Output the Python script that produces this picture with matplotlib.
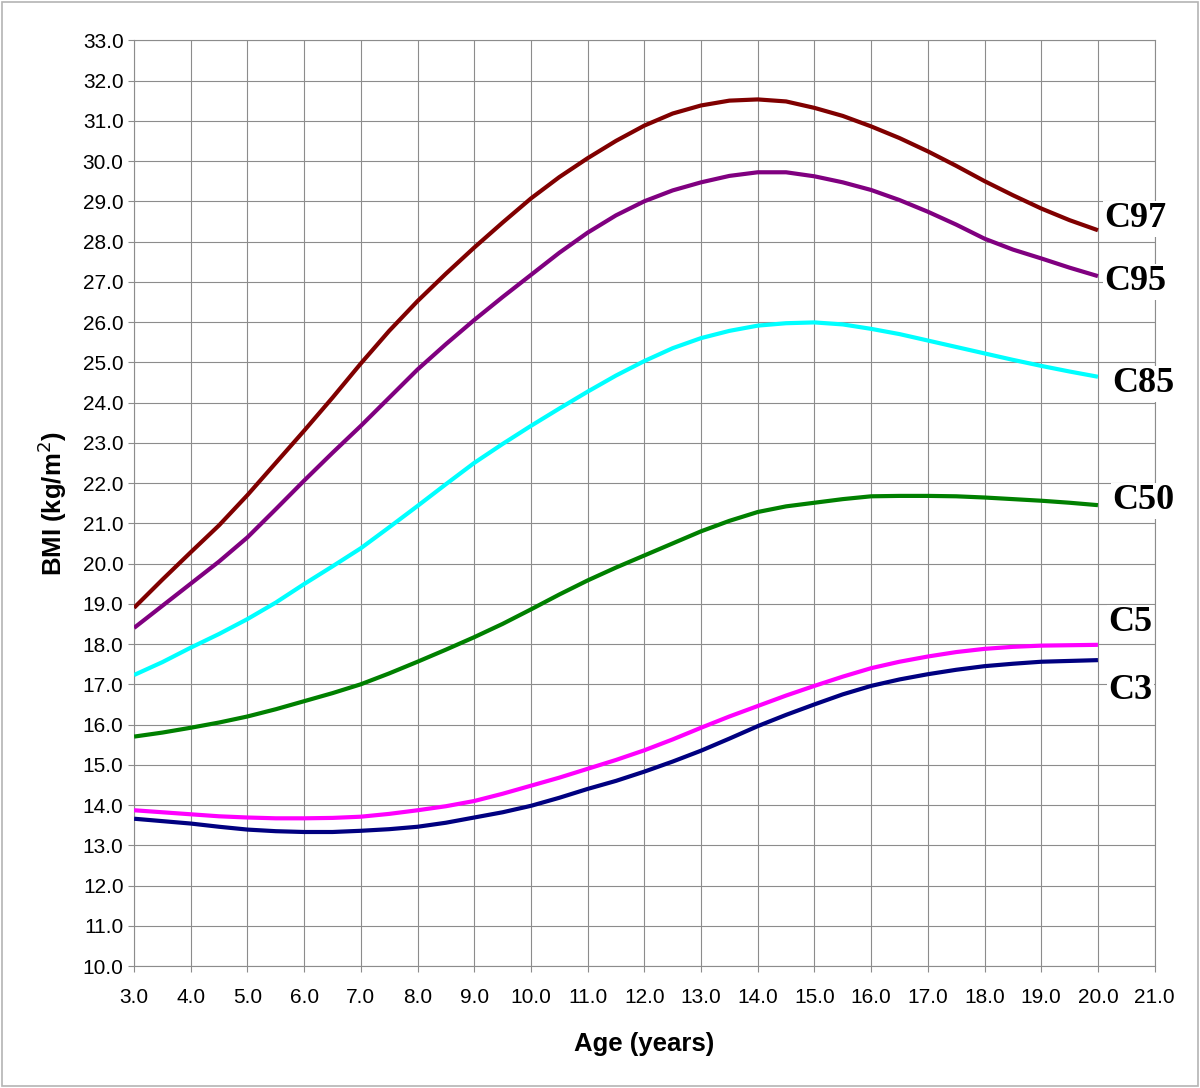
import numpy as np
import matplotlib
matplotlib.use("Agg")
import matplotlib.pyplot as plt
from matplotlib.patches import Rectangle

# BMI percentile curves, every half year
ages = [3.0, 3.5, 4.0, 4.5, 5.0, 5.5, 6.0, 6.5, 7.0, 7.5, 8.0, 8.5, 9.0, 9.5,
        10.0, 10.5, 11.0, 11.5, 12.0, 12.5, 13.0, 13.5, 14.0, 14.5, 15.0, 15.5,
        16.0, 16.5, 17.0, 17.5, 18.0, 18.5, 19.0, 19.5, 20.0]
c97 = [18.9, 19.6, 20.28, 20.95, 21.7, 22.5, 23.3, 24.12, 24.97, 25.78, 26.52,
       27.2, 27.85, 28.47, 29.07, 29.6, 30.07, 30.5, 30.88, 31.18, 31.38, 31.5,
       31.53, 31.48, 31.32, 31.12, 30.86, 30.57, 30.24, 29.88, 29.5, 29.15,
       28.82, 28.53, 28.28]
c95 = [18.4, 18.95, 19.5, 20.05, 20.65, 21.35, 22.06, 22.75, 23.42, 24.12, 24.82,
       25.45, 26.05, 26.62, 27.17, 27.72, 28.22, 28.65, 29.0, 29.27, 29.47, 29.63,
       29.72, 29.72, 29.62, 29.47, 29.28, 29.03, 28.74, 28.42, 28.07, 27.8,
       27.58, 27.35, 27.14]
c85 = [17.23, 17.55, 17.91, 18.25, 18.62, 19.03, 19.49, 19.93, 20.38, 20.9,
       21.43, 21.97, 22.5, 22.97, 23.42, 23.85, 24.27, 24.67, 25.03, 25.35, 25.6,
       25.78, 25.91, 25.97, 25.99, 25.94, 25.83, 25.7, 25.54, 25.38, 25.22,
       25.06, 24.91, 24.77, 24.64]
c50 = [15.7, 15.8, 15.92, 16.05, 16.2, 16.38, 16.58, 16.78, 17.0, 17.27, 17.56,
       17.86, 18.17, 18.5, 18.86, 19.23, 19.58, 19.9, 20.2, 20.5, 20.8, 21.06,
       21.28, 21.42, 21.51, 21.6, 21.67, 21.68, 21.68, 21.67, 21.64, 21.6,
       21.56, 21.51, 21.45]
c5 = [13.87, 13.82, 13.77, 13.72, 13.69, 13.67, 13.67, 13.68, 13.71, 13.78,
      13.87, 13.97, 14.1, 14.28, 14.48, 14.68, 14.9, 15.12, 15.36, 15.63, 15.92,
      16.2, 16.46, 16.72, 16.96, 17.19, 17.4, 17.56, 17.69, 17.8, 17.88, 17.93,
      17.96, 17.97, 17.98]
c3 = [13.66, 13.6, 13.54, 13.46, 13.39, 13.35, 13.33, 13.33, 13.36, 13.4, 13.46,
      13.56, 13.69, 13.82, 13.98, 14.18, 14.4, 14.6, 14.83, 15.08, 15.35, 15.65,
      15.96, 16.24, 16.5, 16.75, 16.96, 17.12, 17.25, 17.36, 17.45, 17.51,
      17.56, 17.58, 17.6]

curve_names = ["C97", "C95", "C85", "C50", "C5", "C3"]
curve_colors = ["#800000", "#800080", "#00FFFF", "#008000", "#FF00FF", "#000080"]
# where each curve label sits (age, bmi)
label_x = [20.12, 20.12, 20.26, 20.26, 20.19, 20.19]
label_y = [28.57, 27.0, 24.47, 21.56, 18.53, 16.84]

x_ticks = np.arange(3, 22, 1)
y_ticks = np.arange(10, 34, 1)

fig = plt.figure(figsize=(12, 10.88), dpi=100)
ax = fig.add_axes([0.1117, 0.1121, 0.8505, 0.8509])

series = [c97, c95, c85, c50, c5, c3]
for vals, col in zip(series, curve_colors):
    ax.plot(ages, vals, color=col, lw=3, solid_capstyle="butt",
            solid_joinstyle="round", zorder=3)

for name, lx, ly in zip(curve_names, label_x, label_y):
    ax.text(lx, ly, name, family="Liberation Serif", weight="bold", fontsize=26,
            ha="left", va="center", clip_on=False, zorder=5,
            bbox=dict(facecolor="white", edgecolor="none", pad=1))

ax.set_xlim(3, 21)
ax.set_ylim(10, 33)
ax.set_xticks(x_ticks)
ax.set_yticks(y_ticks)
ax.set_xticklabels([f"{v:.1f}" for v in x_ticks])
ax.set_yticklabels([f"{v:.1f}" for v in y_ticks])
ax.grid(True, color="#8c8c8c", lw=0.8)
ax.set_axisbelow(True)
for s in ax.spines.values():
    s.set_color("#8c8c8c")
    s.set_linewidth(0.8)
ax.tick_params(axis="both", direction="out", length=4.5, width=0.8,
               color="#8c8c8c", labelsize=15, labelcolor="black")
ax.tick_params(axis="y", pad=3)
ax.tick_params(axis="x", pad=11)
for lab in ax.get_xticklabels() + ax.get_yticklabels():
    lab.set_family("Liberation Sans")

ax.set_xlabel("Age (years)", family="Liberation Sans", weight="bold",
              fontsize=18.5, labelpad=18)
ax.set_ylabel("BMI (kg/m$^2$)", family="Liberation Sans", weight="bold",
              fontsize=18.5, labelpad=10)

fig.patches.append(Rectangle((0.002, 0.002), 0.996, 0.996, transform=fig.transFigure,
                             fill=False, edgecolor="#b4b4b4", lw=1.2))

fig.savefig("out.png", dpi=100)
